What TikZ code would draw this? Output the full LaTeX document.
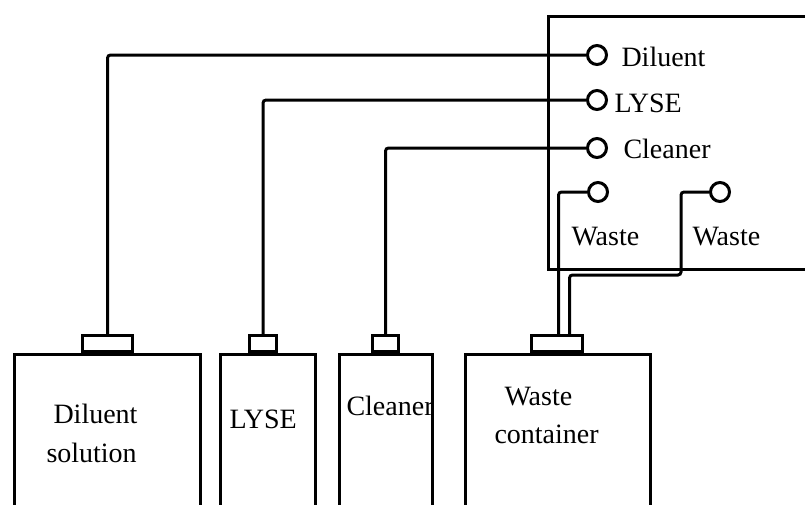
\documentclass[tikz,border=0pt]{standalone}
\usepackage{fontspec}
\setmainfont{Liberation Serif}
\begin{document}
\begin{tikzpicture}[x=1pt,y=-1pt,
  line width=3pt,
  bottle/.style={draw,rectangle,anchor=north west,inner sep=0pt,line width=3pt},
  capbox/.style={draw,rectangle,anchor=south west,inner sep=0pt,line width=3pt},
  port/.style={draw,circle,inner sep=0pt,minimum size=19pt,line width=3pt},
  lbl/.style={anchor=base west,inner sep=0pt,font=\fontsize{28}{30}\selectfont},
  pipe/.style={line width=3pt,rounded corners=3pt}]
\useasboundingbox (0,0) rectangle (805,504);
\clip (0,0) rectangle (805,504);
% instrument box
\node[draw,rectangle,anchor=north west,inner sep=0pt,minimum width=280pt,minimum height=253pt] (inst) at (547,15) {};
% bottles
\node[bottle,minimum width=186pt,minimum height=200pt] (bD) at (13,353) {};
\node[bottle,minimum width=95pt,minimum height=200pt] (bL) at (219,353) {};
\node[bottle,minimum width=93pt,minimum height=200pt] (bC) at (338,353) {};
\node[bottle,minimum width=185pt,minimum height=200pt] (bW) at (464,353) {};
% caps
\node[capbox,minimum width=50pt,minimum height=16pt] (cD) at (81,353) {};
\node[capbox,minimum width=27pt,minimum height=16pt] (cL) at (248,353) {};
\node[capbox,minimum width=26pt,minimum height=16pt] (cC) at (371,353) {};
\node[capbox,minimum width=51pt,minimum height=16pt] (cW) at (530,353) {};
% ports
\node[port] (pD) at (597,55) {};
\node[port] (pL) at (597,100) {};
\node[port] (pC) at (597,148) {};
\node[port] (pW1) at (598,192) {};
\node[port] (pW2) at (720,192) {};
% pipes
\draw[pipe] (cD.north) |- (pD.west);
\draw[pipe] (cL.north) |- (pL.west);
\draw[pipe] (cC.north) |- (pC.west);
\coordinate (w1) at ([xshift=1.5pt]cW.north);
\coordinate (w2) at ([xshift=12.5pt]cW.north);
\draw[pipe] (w1) |- (pW1.west);
\draw[pipe] (w2) -- ++(0,-59) -| (681,192) -- (pW2.west);
% labels in instrument
\node[lbl] (tD) at (620,66) {Diluent};
\node[lbl] (tL) at (613,112) {LYSE};
\node[lbl] (tC) at (622,158) {Cleaner};
\node[lbl] (tW1) at (570,245) {Waste};
\node[lbl] (tW2) at (691,245) {Waste};
% labels in bottles
\node[lbl] (lD1) at (52,423) {Diluent};
\node[lbl] (lD2) at (45,462) {solution};
\node[lbl] (lL) at (228,428) {LYSE};
\node[lbl] (lC) at (345,415) {Cleaner};
\node[lbl] (lW1) at (503,405) {Waste};
\node[lbl] (lW2) at (493,443) {container};
\end{tikzpicture}
\end{document}
